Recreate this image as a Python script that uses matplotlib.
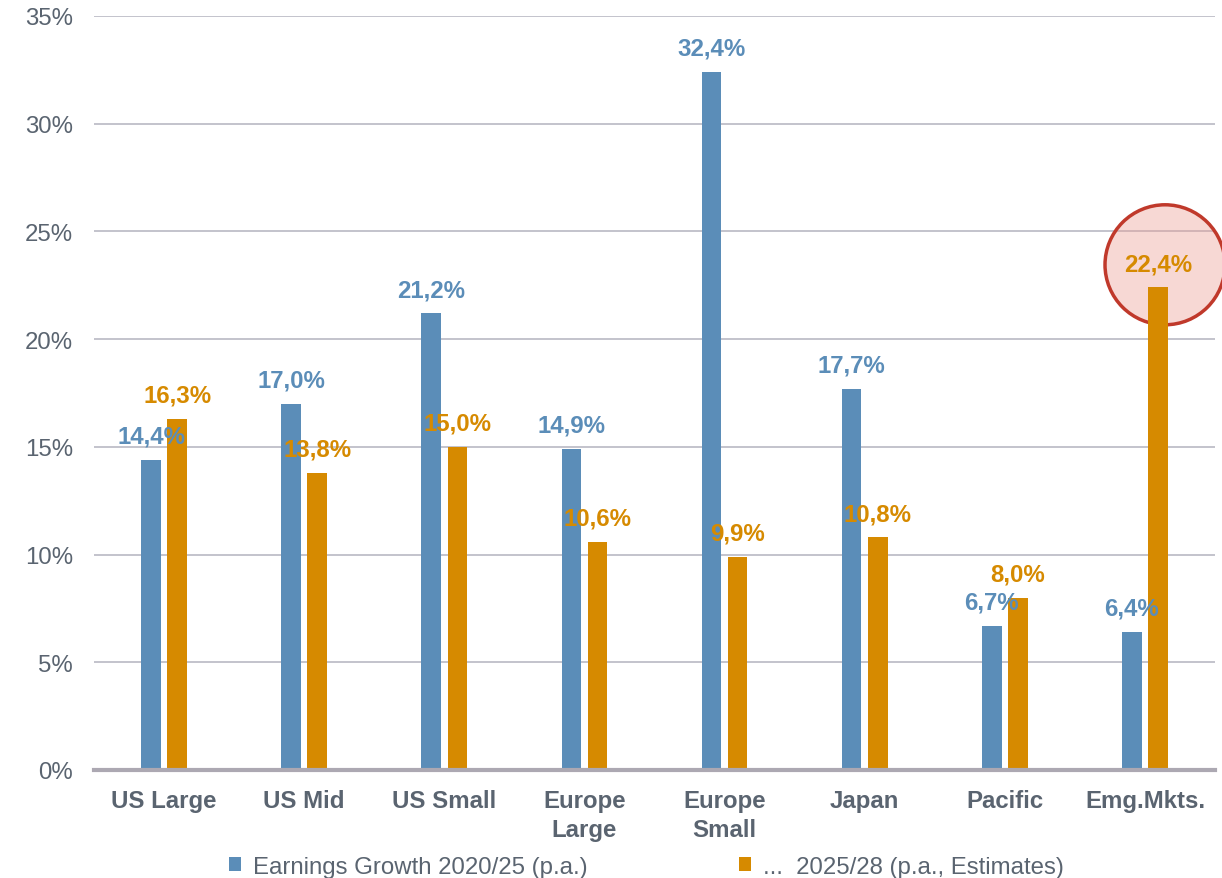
import numpy as np
import matplotlib.pyplot as plt
from matplotlib.patches import Circle
from matplotlib.transforms import ScaledTranslation

plt.rcParams['font.family'] = ['Liberation Sans', 'DejaVu Sans']

categories = ['US Large', 'US Mid', 'US Small', 'Europe\nLarge', 'Europe\nSmall', 'Japan', 'Pacific', 'Emg.Mkts.']
growth_2020_25 = [14.4, 17.0, 21.2, 14.9, 32.4, 17.7, 6.7, 6.4]
growth_2025_28 = [16.3, 13.8, 15.0, 10.6, 9.9, 10.8, 8.0, 22.4]
series_names = ['Earnings Growth 2020/25 (p.a.)', '...  2025/28 (p.a., Estimates)']

blue = '#5b8db8'
orange = '#d68a00'
text_gray = '#5a6470'
fs = 17.3

fig = plt.figure(figsize=(12.22, 8.79), dpi=100)
ax = fig.add_axes([0.0769, 0.1229, 0.9174, 0.8578])

x = np.arange(len(categories))
w = 0.14
off = 0.093
b1 = ax.bar(x - off, growth_2020_25, w, color=blue, zorder=3)
b2 = ax.bar(x + off, growth_2025_28, w, color=orange, zorder=3)

for xi, v in zip(x, growth_2020_25):
    ax.annotate(f'{v:.1f}%'.replace('.', ','), (xi - off, v), xytext=(0, 17), textcoords='offset points',
                ha='center', va='center', fontsize=fs, fontweight='bold', color=blue, zorder=5)
for xi, v in zip(x, growth_2025_28):
    ax.annotate(f'{v:.1f}%'.replace('.', ','), (xi + off, v), xytext=(0, 17), textcoords='offset points',
                ha='center', va='center', fontsize=fs, fontweight='bold', color=orange, zorder=5)

# highlight circle around Emg.Mkts. estimate
tr = fig.dpi_scale_trans + ScaledTranslation(x[-1] + off + 0.05, growth_2025_28[-1] + 1.05, ax.transData)
ax.add_patch(Circle((0, 0), 0.6, transform=tr, facecolor=(0.92, 0.62, 0.58, 0.4),
                    edgecolor='#c0392b', linewidth=2.5, zorder=2, clip_on=False))

ax.set_xlim(-0.5, len(categories) - 0.5)
ax.set_ylim(0, 35)
ax.set_yticks(np.arange(0, 36, 5))
ax.set_yticklabels([f'{t}%' for t in range(0, 36, 5)])
ax.yaxis.grid(True, color='#b9b9c3', linewidth=1.2, zorder=0)
ax.set_axisbelow(True)
ax.set_xticks(x)
ax.set_xticklabels(categories, fontsize=fs, fontweight='bold', color=text_gray, linespacing=1.3)
ax.tick_params(axis='y', labelsize=fs, labelcolor=text_gray, length=0, pad=15)
ax.tick_params(axis='x', length=0, pad=14)
for s in ['top', 'right', 'left']:
    ax.spines[s].set_visible(False)
ax.spines['bottom'].set_color('#aca8b2')
ax.spines['bottom'].set_linewidth(3)
ax.spines['bottom'].set_zorder(4)

fig.legend([b1, b2], series_names, loc='center', bbox_to_anchor=(0.529, 0.013), ncol=2,
           frameon=False, fontsize=fs, labelcolor=text_gray, handlelength=0.5, handleheight=0.5,
           handletextpad=0.5, columnspacing=6.3)

fig.savefig('out.png', dpi=100)
